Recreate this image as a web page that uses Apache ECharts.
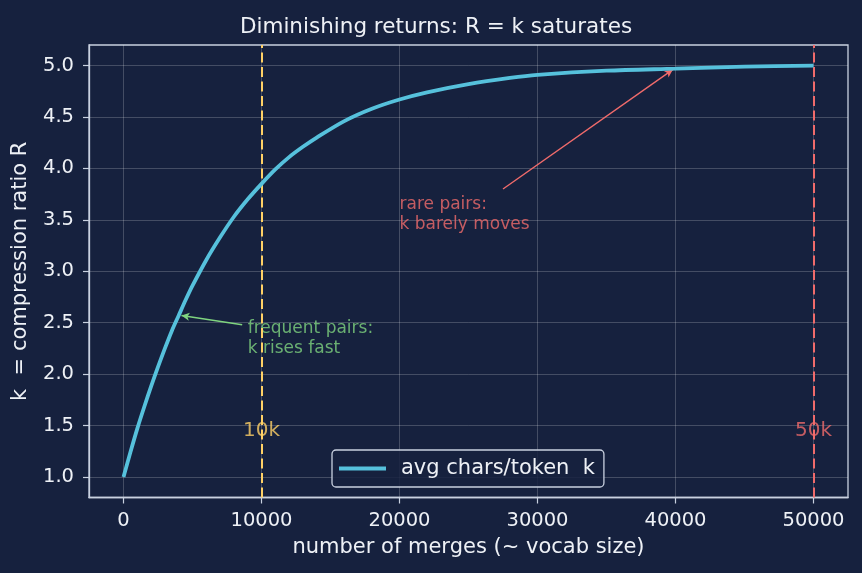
<!DOCTYPE html>
<html>
<head>
<meta charset="utf-8">
<script src="https://cdn.jsdelivr.net/npm/echarts@6/dist/echarts.min.js"></script>
<style>
  html, body { margin: 0; padding: 0; background: #16213e; }
  #chart { width: 862px; height: 573px; }
</style>
</head>
<body>
<div id="chart"></div>
<script>
// values
const merges = [0, 500, 1000, 1500, 2000, 2500, 3000, 3500, 4000, 4500, 5000, 6000, 7000, 8000, 9000,
  10000, 11000, 12000, 13000, 14000, 16000, 18000, 20000, 22000, 25000, 28000, 30000, 35000, 40000, 45000, 50000];
const ratioK = [1.00, 1.24, 1.47, 1.68, 1.88, 2.07, 2.25, 2.42, 2.57, 2.72, 2.86, 3.11, 3.33, 3.53, 3.70,
  3.85, 3.99, 4.11, 4.21, 4.30, 4.46, 4.58, 4.67, 4.74, 4.82, 4.88, 4.91, 4.95, 4.97, 4.99, 5.00];
const xTicks = [0, 10000, 20000, 30000, 40000, 50000];
const yTicks = [1.0, 1.5, 2.0, 2.5, 3.0, 3.5, 4.0, 4.5, 5.0];
const markers = [10000, 50000];
const markerLabels = ['10k', '50k'];

const bg = '#16213e';
const fg = '#eef1f6';
const frame = '#c9d1e0';
const curveColor = '#56c1dc';
const yellow = '#ffd166';
const red = '#f06b6b';
const green = '#7fd47f';

const chart = echarts.init(document.getElementById('chart'));
const font = 'DejaVu Sans';

const option = {
  backgroundColor: bg,
  textStyle: { fontFamily: font },
  animation: false,
  title: {
    text: 'Diminishing returns: R = k saturates',
    left: 431, top: 11, textAlign: 'center',
    textStyle: { color: fg, fontSize: 21.5, fontWeight: 'normal', fontFamily: font }
  },
  grid: {
    left: 89, top: 45, right: 14, bottom: 75.5,
    show: true, borderColor: frame, borderWidth: 1.3, backgroundColor: 'transparent'
  },
  legend: {
    left: 332, top: 450,
    data: [{ name: 'avg chars/token  k', icon: 'rect' }],
    itemWidth: 47, itemHeight: 4,
    padding: [8, 9, 8, 7],
    borderColor: frame, borderWidth: 1.3, borderRadius: 4,
    backgroundColor: 'rgba(22,33,62,0.85)',
    textStyle: { color: fg, fontSize: 21, fontFamily: font, padding: [0, 0, 0, 10] }
  },
  xAxis: {
    type: 'value', min: -2500, max: 52500,
    name: 'number of merges (~ vocab size)', nameLocation: 'middle', nameGap: 40,
    nameTextStyle: { color: fg, fontSize: 21, fontFamily: font },
    axisLine: { show: true, onZero: false, lineStyle: { color: frame, width: 1.3 } },
    axisTick: { show: true, length: 6, lineStyle: { color: frame, width: 1.2 }, customValues: xTicks },
    axisLabel: { color: fg, fontSize: 19.5, margin: 13, customValues: xTicks, fontFamily: font,
      formatter: v => String(v) },
    splitLine: { show: true, lineStyle: { color: 'rgba(255,255,255,0.2)', width: 1 } }
  },
  yAxis: {
    type: 'value', min: 0.8, max: 5.2,
    name: 'k  = compression ratio R', nameLocation: 'middle', nameGap: 58,
    nameTextStyle: { color: fg, fontSize: 21, fontFamily: font },
    axisLine: { show: true, onZero: false, lineStyle: { color: frame, width: 1.3 } },
    axisTick: { show: true, length: 6, lineStyle: { color: frame, width: 1.2 }, customValues: yTicks },
    axisLabel: { color: fg, fontSize: 19.5, margin: 15, customValues: yTicks, fontFamily: font,
      formatter: v => v.toFixed(1) },
    splitLine: { show: true, lineStyle: { color: 'rgba(255,255,255,0.2)', width: 1 } }
  },
  series: [
    {
      name: 'avg chars/token  k',
      type: 'line',
      data: merges.map((m, i) => [m, ratioK[i]]),
      smooth: 0.3,
      showSymbol: false,
      lineStyle: { color: curveColor, width: 3.8 },
      itemStyle: { color: curveColor },
      z: 5,
      markLine: {
        silent: true,
        symbol: 'none',
        label: { show: false },
        data: [
          { xAxis: markers[0], lineStyle: { color: yellow, type: [10, 4.5], width: 2 } },
          { xAxis: markers[1], lineStyle: { color: red, type: [10, 4.5], width: 2 } }
        ]
      }
    },
    {
      // arrows for the two annotations
      type: 'line',
      data: [],
      markLine: {
        silent: true,
        symbol: ['none', 'arrow'],
        symbolSize: [6, 8],
        label: { show: false },
        data: [
          [{ coord: [27500, 3.8], lineStyle: { color: red, width: 1.4, type: 'solid' } },
           { coord: [39800, 4.96] }],
          [{ coord: [8600, 2.48], lineStyle: { color: green, width: 1.4, type: 'solid' } },
           { coord: [4200, 2.57] }]
        ]
      }
    },
    {
      // text labels
      type: 'scatter',
      symbolSize: 0,
      silent: true,
      data: [
        { value: [markers[0], 1.35], label: { formatter: markerLabels[0], color: yellow, fontSize: 20, align: 'center' } },
        { value: [markers[1], 1.35], label: { formatter: markerLabels[1], color: red, fontSize: 20, align: 'center' } },
        { value: [20000, 3.36], label: { formatter: 'rare pairs:\nk barely moves', color: red, fontSize: 17, lineHeight: 20, align: 'left' } },
        { value: [9000, 2.15], label: { formatter: 'frequent pairs:\nk rises fast', color: green, fontSize: 17, lineHeight: 20, align: 'left' } }
      ],
      label: { show: true, position: [0, 0], verticalAlign: 'bottom', fontFamily: font }
    }
  ]
};
chart.setOption(option);
</script>
</body>
</html>
